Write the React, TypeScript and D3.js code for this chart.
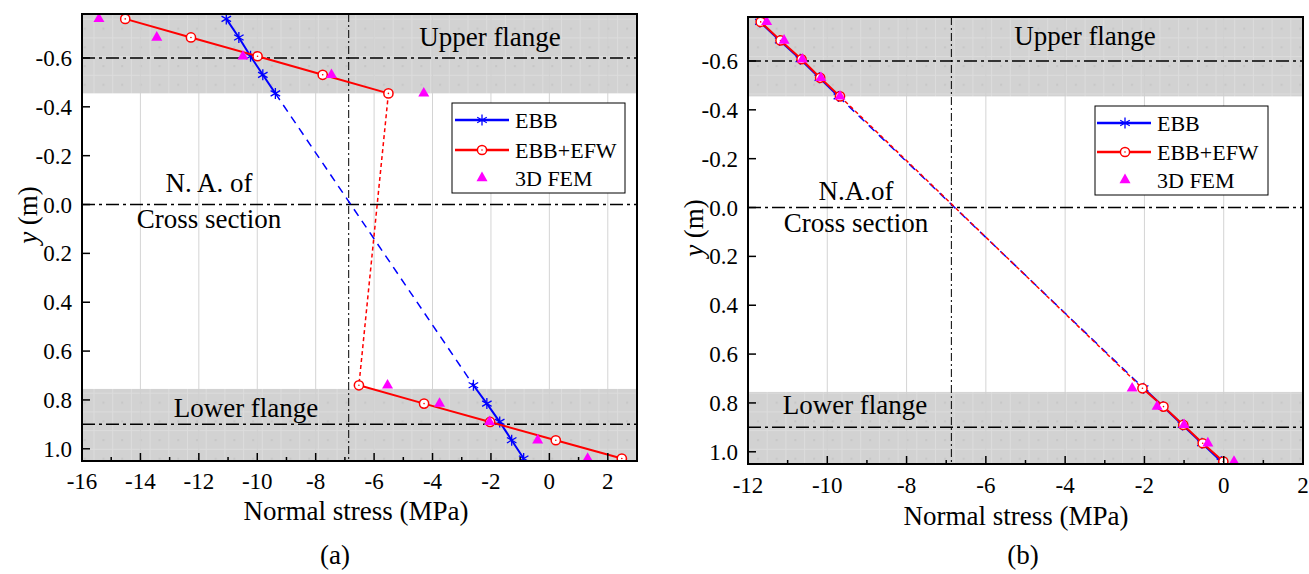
import React from "react";
import * as d3 from "d3";

// ---------- data ----------
const yUpper = [-0.76, -0.684, -0.607, -0.531, -0.455];
const yLower = [0.74, 0.815, 0.89, 0.965, 1.04];

// panel (a)
const ebbAUpper = [-11.06, -10.63, -10.23, -9.81, -9.38];
const ebbALower = [-2.6, -2.14, -1.7, -1.29, -0.88];
const efwAUpper = [-14.52, -12.27, -9.99, -7.76, -5.51];
const efwALower = [-6.52, -4.29, -2.03, 0.22, 2.48];
const femAUpper = [-15.42, -13.44, -10.49, -7.46, -4.3];
const femALower = [-5.54, -3.76, -2.05, -0.4, 1.31];

// panel (b)
const ebbBUpper = [-11.7, -11.2, -10.68, -10.2, -9.72];
const ebbBLower = [-2.02, -1.53, -1.04, -0.55, -0.06];
const efwBUpper = [-11.68, -11.18, -10.65, -10.18, -9.68];
const efwBLower = [-2.05, -1.52, -1.02, -0.53, -0.01];
const femBUpper = [-11.53, -11.09, -10.63, -10.16, -9.68];
const femBLower = [-2.31, -1.68, -1.0, -0.4, 0.26];

const yTicks = [-0.6, -0.4, -0.2, 0.0, 0.2, 0.4, 0.6, 0.8, 1.0];
const xTicksA = [-16, -14, -12, -10, -8, -6, -4, -2, 0, 2];
const xTicksB = [-12, -10, -8, -6, -4, -2, 0, 2];
const naStress = -6.87;
const refLinesY = [-0.6, 0.0, 0.9];
const upperFlange = [-0.78, -0.455];
const lowerFlange = [0.755, 1.05];
const legendLabels = ["EBB", "EBB+EFW", "3D FEM"];

const FONT = "Liberation Serif";
const BLUE = "#0000ff";
const RED = "#ff0000";
const MAG = "#ff00ff";

type Pt = [number, number];

function zip(xs: number[], ys: number[]): Pt[] {
  return xs.map((x, i) => [x, ys[i]] as Pt);
}

function Asterisk({ x, y }: { x: number; y: number }) {
  const r = 5.5;
  const segs = [90, 30, 150].map((a) => {
    const rad = (a * Math.PI) / 180;
    const dx = r * Math.cos(rad);
    const dy = r * Math.sin(rad);
    return `M${x - dx},${y - dy}L${x + dx},${y + dy}`;
  });
  return <path d={segs.join("")} stroke={BLUE} strokeWidth={1.3} fill="none" />;
}

function CircleMark({ x, y }: { x: number; y: number }) {
  return (
    <g>
      <circle cx={x} cy={y} r={4.6} fill="#fff" stroke={RED} strokeWidth={1.5} />
      <circle cx={x} cy={y} r={0.8} fill={RED} />
    </g>
  );
}

function Tri({ x, y }: { x: number; y: number }) {
  const s = 11;
  const h = s * 0.87;
  return (
    <path
      d={`M${x},${y - (2 * h) / 3}L${x + s / 2},${y + h / 3}L${x - s / 2},${y + h / 3}Z`}
      fill={MAG}
    />
  );
}

interface PanelProps {
  id: string;
  x0: number;
  x1: number;
  y0: number;
  y1: number;
  xDomain: [number, number];
  xTicks: number[];
  ebbU: number[];
  ebbL: number[];
  efwU: number[];
  efwL: number[];
  femU: number[];
  femL: number[];
  upperLabel: [number, number];
  lowerLabel: [number, number];
  naLabel: [number, number, number];
  naText: string;
  legend: [number, number, number, number];
  legendRows: [number, number, number];
  legendLine: [number, number, number];
  yTitle: [number, number];
  xTitle: [number, number];
  xTickBaseline: number;
  panelLabel: [number, number, string];
}

function Panel(p: PanelProps) {
  const xs = d3.scaleLinear().domain(p.xDomain).range([p.x0, p.x1]);
  const ys = d3.scaleLinear().domain([-0.78, 1.05]).range([p.y0, p.y1]);
  const line = d3
    .line<Pt>()
    .x((d) => xs(d[0]))
    .y((d) => ys(d[1]));

  const ebbUp = zip(p.ebbU, yUpper);
  const ebbLo = zip(p.ebbL, yLower);
  const efwUp = zip(p.efwU, yUpper);
  const efwLo = zip(p.efwL, yLower);
  const femPts = [...zip(p.femU, yUpper), ...zip(p.femL, yLower)];

  const minor = d3.range(p.xDomain[0], p.xDomain[1] + 0.001, 1);
  const clipId = `clip-${p.id}`;
  const patId = `pat-${p.id}`;
  const [lx0, ly0, lx1, ly1] = p.legend;
  const [ls0, lm, ls1] = p.legendLine;

  return (
    <g>
      <defs>
        <clipPath id={clipId}>
          <rect x={p.x0} y={p.y0} width={p.x1 - p.x0} height={p.y1 - p.y0} />
        </clipPath>
        <pattern id={patId} width={18.7} height={18.7} patternUnits="userSpaceOnUse">
          <rect width={18.7} height={18.7} fill="#d2d2d2" />
          <path d="M0,0.5H18.7M0.5,0V18.7" stroke="#dcdcdc" strokeWidth={1} />
          <rect x={9} y={9} width={2} height={2} fill="#c6c6c6" />
        </pattern>
      </defs>
      <g clipPath={`url(#${clipId})`}>
        <rect
          x={p.x0}
          y={ys(upperFlange[0])}
          width={p.x1 - p.x0}
          height={ys(upperFlange[1]) - ys(upperFlange[0])}
          fill={`url(#${patId})`}
        />
        <rect
          x={p.x0}
          y={ys(lowerFlange[0])}
          width={p.x1 - p.x0}
          height={ys(lowerFlange[1]) - ys(lowerFlange[0])}
          fill={`url(#${patId})`}
        />
        {p.xTicks.map((t) => (
          <line
            key={`g${t}`}
            x1={xs(t)}
            x2={xs(t)}
            y1={p.y0}
            y2={p.y1}
            stroke="#d0d0d0"
            strokeWidth={1}
            opacity={0.9}
          />
        ))}
        {refLinesY.map((v) => (
          <line
            key={`r${v}`}
            x1={p.x0}
            x2={p.x1}
            y1={ys(v)}
            y2={ys(v)}
            stroke="#000"
            strokeWidth={1.5}
            strokeDasharray="13,4,3,4"
          />
        ))}
        <line
          x1={xs(naStress)}
          x2={xs(naStress)}
          y1={p.y0}
          y2={p.y1}
          stroke="#000"
          strokeWidth={1}
          strokeDasharray="8,3,2,3"
        />
      </g>

      <g fontFamily={FONT} fontSize={27} textAnchor="middle" fill="#000">
        <text x={p.upperLabel[0]} y={p.upperLabel[1]}>Upper flange</text>
        <text x={p.lowerLabel[0]} y={p.lowerLabel[1]}>Lower flange</text>
        <text x={p.naLabel[0]} y={p.naLabel[1]}>{p.naText}</text>
        <text x={p.naLabel[0]} y={p.naLabel[2]}>Cross section</text>
      </g>

      <g clipPath={`url(#${clipId})`}>
        <path d={line(ebbUp) || ""} stroke={BLUE} strokeWidth={2} fill="none" />
        <path d={line(ebbLo) || ""} stroke={BLUE} strokeWidth={2} fill="none" />
        <path
          d={line([ebbUp[4], ebbLo[0]]) || ""}
          stroke={BLUE}
          strokeWidth={1.5}
          strokeDasharray="8,6"
          fill="none"
        />
        {[...ebbUp, ...ebbLo].map((d, i) => (
          <Asterisk key={`a${i}`} x={xs(d[0])} y={ys(d[1])} />
        ))}
        <path d={line(efwUp) || ""} stroke={RED} strokeWidth={2} fill="none" />
        <path d={line(efwLo) || ""} stroke={RED} strokeWidth={2} fill="none" />
        <path
          d={line([efwUp[4], efwLo[0]]) || ""}
          stroke={RED}
          strokeWidth={1.5}
          strokeDasharray="4,3"
          fill="none"
        />
        {[...efwUp, ...efwLo].map((d, i) => (
          <CircleMark key={`c${i}`} x={xs(d[0])} y={ys(d[1])} />
        ))}
        {femPts.map((d, i) => (
          <Tri key={`t${i}`} x={xs(d[0])} y={ys(d[1])} />
        ))}
      </g>

      <rect x={lx0} y={ly0} width={lx1 - lx0} height={ly1 - ly0} fill="#fff" stroke="#000" strokeWidth={1} />
      <line x1={ls0} x2={ls1} y1={p.legendRows[0]} y2={p.legendRows[0]} stroke={BLUE} strokeWidth={2.5} />
      <Asterisk x={lm} y={p.legendRows[0]} />
      <line x1={ls0} x2={ls1} y1={p.legendRows[1]} y2={p.legendRows[1]} stroke={RED} strokeWidth={2.5} />
      <CircleMark x={lm} y={p.legendRows[1]} />
      <Tri x={lm} y={p.legendRows[2]} />
      <g fontFamily={FONT} fontSize={22} fill="#000">
        {legendLabels.map((t, i) => (
          <text key={t} x={ls1 + 6} y={p.legendRows[i] + 7.5}>
            {t}
          </text>
        ))}
      </g>

      <rect
        x={p.x0}
        y={p.y0}
        width={p.x1 - p.x0}
        height={p.y1 - p.y0}
        fill="none"
        stroke="#000"
        strokeWidth={2}
      />

      {minor.map((t) => {
        const major = p.xTicks.includes(t);
        return (
          <line
            key={`xt${t}`}
            x1={xs(t)}
            x2={xs(t)}
            y1={p.y1}
            y2={p.y1 - (major ? 8 : 4)}
            stroke="#000"
            strokeWidth={1.5}
          />
        );
      })}
      <g fontFamily={FONT} fontSize={23} textAnchor="middle" fill="#000">
        {p.xTicks.map((t) => (
          <text key={`xl${t}`} x={xs(t)} y={p.xTickBaseline}>
            {String(t)}
          </text>
        ))}
      </g>

      {yTicks.map((t) => (
        <line
          key={`yt${t}`}
          x1={p.x0}
          x2={p.x0 + 8}
          y1={ys(t)}
          y2={ys(t)}
          stroke="#000"
          strokeWidth={1.5}
        />
      ))}
      <g fontFamily={FONT} fontSize={23} textAnchor="end" fill="#000">
        {yTicks.map((t) => (
          <text key={`yl${t}`} x={p.x0 - 10} y={ys(t) + 8}>
            {d3.format(".1f")(t).replace("\u2212", "-")}
          </text>
        ))}
      </g>

      <g fontFamily={FONT} fontSize={27} textAnchor="middle" fill="#000">
        <text transform={`translate(${p.yTitle[0] + 9},${p.yTitle[1]}) rotate(-90)`}>
          <tspan fontStyle="italic">y</tspan> (m)
        </text>
        <text x={p.xTitle[0]} y={p.xTitle[1]}>
          Normal stress (MPa)
        </text>
        <text x={p.panelLabel[0]} y={p.panelLabel[1]}>
          {p.panelLabel[2]}
        </text>
      </g>
    </g>
  );
}

export default function App() {
  return (
    <svg
      width={1309}
      height={574}
      style={{ position: "absolute", left: 0, top: 0, background: "#fff" }}
    >
      <rect width={1309} height={574} fill="#fff" />
      <Panel
        id="a"
        x0={82}
        x1={637}
        y0={14}
        y1={461}
        xDomain={[-16, 3]}
        xTicks={xTicksA}
        ebbU={ebbAUpper}
        ebbL={ebbALower}
        efwU={efwAUpper}
        efwL={efwALower}
        femU={femAUpper}
        femL={femALower}
        upperLabel={[490, 46]}
        lowerLabel={[246, 417]}
        naLabel={[209, 192, 228]}
        naText="N. A. of"
        legend={[452, 103, 625, 193]}
        legendRows={[120, 150, 178]}
        legendLine={[455, 482, 509]}
        yTitle={[28, 215]}
        xTitle={[356, 520]}
        xTickBaseline={489}
        panelLabel={[335, 564, "(a)"]}
      />
      <Panel
        id="b"
        x0={748}
        x1={1303}
        y0={17}
        y1={464}
        xDomain={[-12, 2]}
        xTicks={xTicksB}
        ebbU={ebbBUpper}
        ebbL={ebbBLower}
        efwU={efwBUpper}
        efwL={efwBLower}
        femU={femBUpper}
        femL={femBLower}
        upperLabel={[1085, 45]}
        lowerLabel={[855, 414]}
        naLabel={[856, 200, 232]}
        naText="N.A.of"
        legend={[1095, 106, 1268, 195]}
        legendRows={[123, 152, 180]}
        legendLine={[1097, 1125, 1151]}
        yTitle={[694, 228]}
        xTitle={[1016, 525]}
        xTickBaseline={493}
        panelLabel={[1023, 564, "(b)"]}
      />
    </svg>
  );
}
